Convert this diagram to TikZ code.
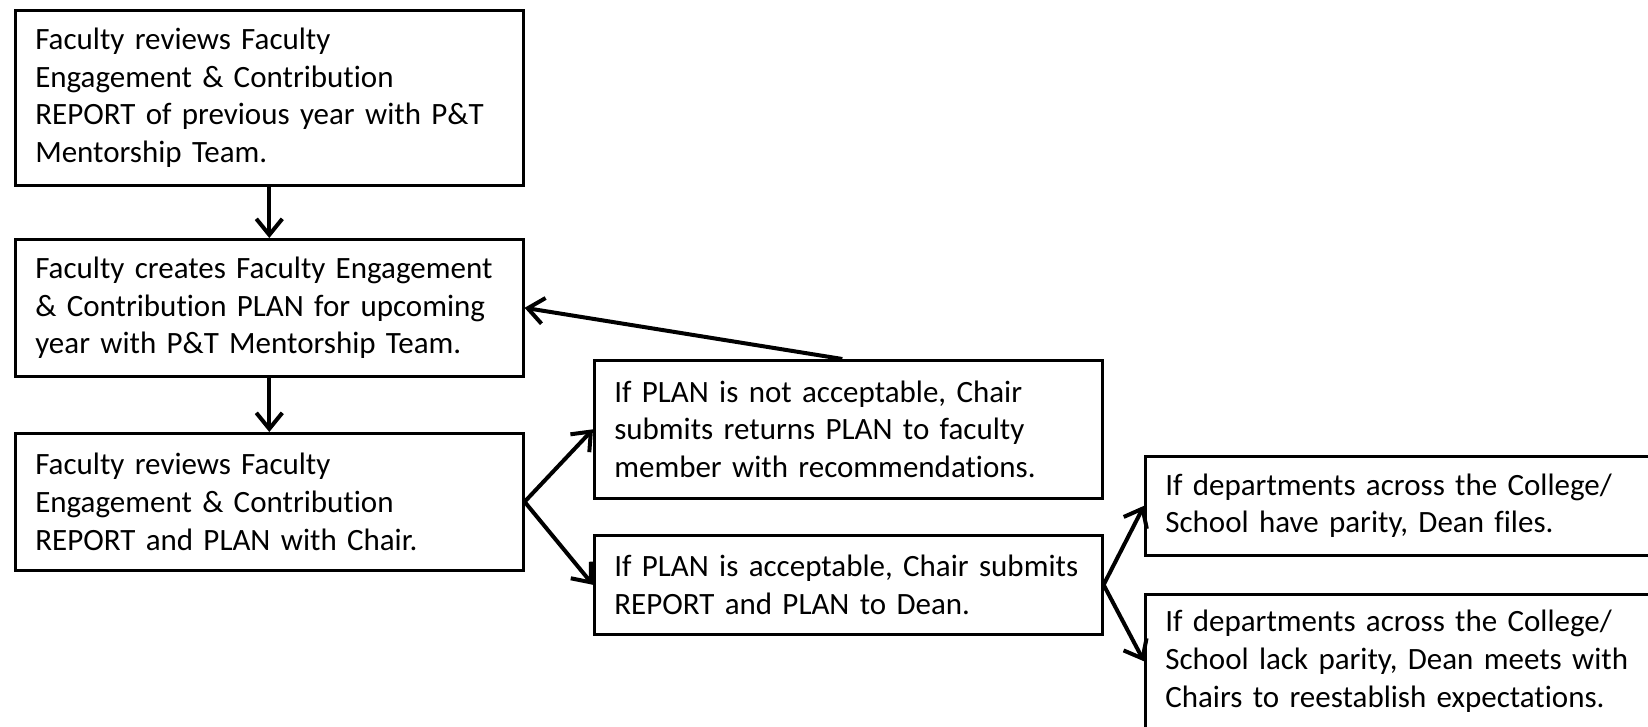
\documentclass[tikz,border=0pt]{standalone}
\usepackage{fontspec}
\setmainfont{Carlito}[Ligatures=NoCommon]
\usetikzlibrary{arrows.meta,calc}
\tikzset{
  box/.style={draw, line width=1.3pt, anchor=north west, align=left,
    text width=234pt, inner xsep=10pt, inner ysep=0pt, minimum width=254pt,
    font=\fontsize{15.5pt}{18.9pt}\selectfont},
  conn/.style={line width=2pt, -{Straight Barb[length=8pt,width=13pt]}}
}
\begin{document}
\begin{tikzpicture}[x=0.5pt,y=-0.5pt]
\useasboundingbox (0,0) rectangle (1648,727);
\fill[white] (0,0) rectangle (1648,727);
\clip (0,0) rectangle (1648,727);
\node[box, minimum height=87.5pt] (b1) at (14,9) {Faculty reviews Faculty\\Engagement \& Contribution\\REPORT of previous year with P\&T\\Mentorship Team.};
\node[box, minimum height=68.5pt] (b2) at (14,238) {Faculty creates Faculty Engagement\\\& Contribution PLAN for upcoming\\year with P\&T Mentorship Team.};
\node[box, minimum height=68.5pt] (b3) at (14,432) {Faculty reviews Faculty\\Engagement \& Contribution\\REPORT and PLAN with Chair.};
\node[box, minimum height=69pt] (b4) at (593,359) {If PLAN is not acceptable, Chair\\submits returns PLAN to faculty\\member with recommendations.};
\node[box, minimum height=49.5pt] (b5) at (593,534) {If PLAN is acceptable, Chair submits\\REPORT and PLAN to Dean.};
\node[box, minimum height=49.5pt] (b6) at (1144,455) {If departments across the College/\\School have parity, Dean files.};
\node[box, minimum height=67pt] (b7) at (1144,593) {If departments across the College/\\School lack parity, Dean meets with\\Chairs to reestablish expectations.};
\draw[conn] (b1) -- (b2);
\draw[conn] (b2) -- (b3);
\draw[conn] (b3.east) -- (b4.west);
\draw[conn] (b3.east) -- (b5.west);
\draw[conn] ($(b4.north)+(-6,0)$) -- (b2.east);
\draw[conn] (b5.east) -- (b6.west);
\draw[conn] (b5.east) -- (b7.west);
\end{tikzpicture}
\end{document}
